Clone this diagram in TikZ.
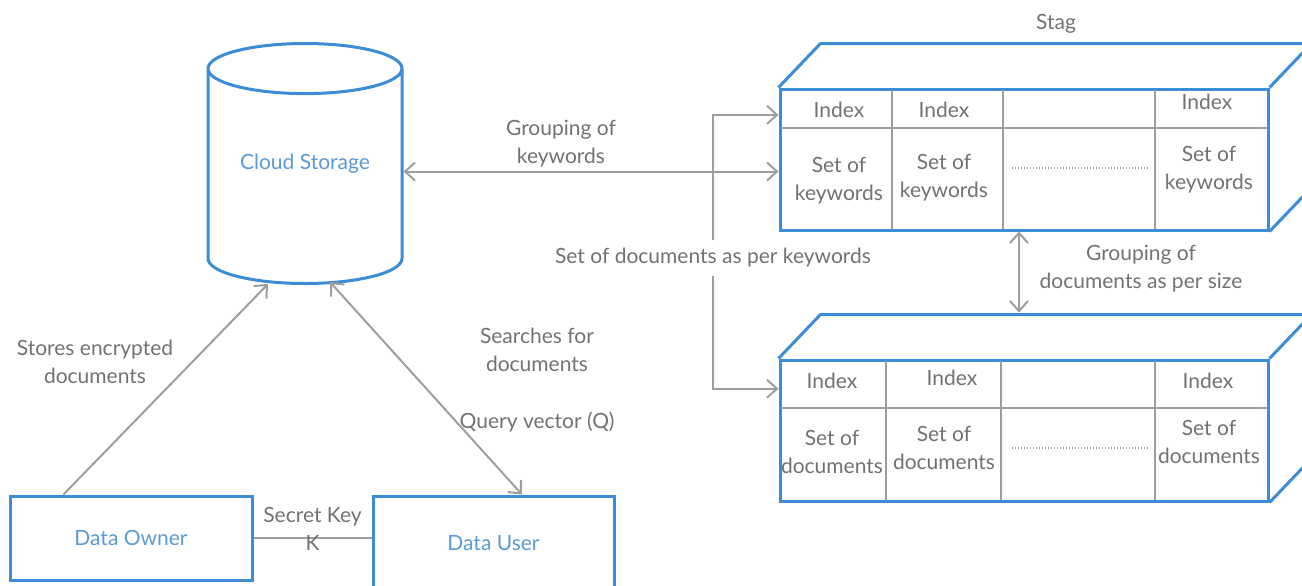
\documentclass[tikz,border=0pt]{standalone}
\usepackage{fontspec}
\setmainfont{Lato}
\usetikzlibrary{calc,arrows.meta,positioning,shapes.geometric}
\definecolor{bluex}{HTML}{3C8DD6}
\definecolor{bluet}{HTML}{5B9BD5}
\definecolor{grayl}{HTML}{9E9E9E}
\definecolor{grayt}{HTML}{727272}
\tikzset{
  box/.style={draw=bluex,line width=1.5pt,fill=white,text=bluet,font=\fontsize{10.5}{14}\selectfont},
  face/.style={bluex,line width=1.5pt,line join=round},
  ln/.style={grayl,line width=1pt},
  ar/.style={ln,-{Straight Barb[length=5pt,width=9pt]}},
  dar/.style={ln,{Straight Barb[length=5pt,width=9pt]}-{Straight Barb[length=5pt,width=9pt]}},
  lbl/.style={text=grayt,align=center,font=\fontsize{10.5}{14}\selectfont,inner sep=1pt},
  tl/.style={grayl,line width=1.2pt},
  dots/.style={grayl,line width=0.7pt,dash pattern=on 0.6pt off 0.9pt}
}
\begin{document}
\begin{tikzpicture}[x=0.5pt,y=-0.5pt]
\useasboundingbox (0,0) rectangle (1302,585);
\node[box,cylinder,shape border rotate=90,aspect=0.35,minimum width=97pt,minimum height=120pt,anchor=south] (cloud) at (305,285) {\phantom{Cloud Storage}};
\node[lbl,text=bluet] (cloudt) at ($(cloud.south)!0.5!(cloud.north)$) {Cloud Storage};
\node[box,minimum width=121pt,minimum height=42pt] (owner) at (131,538) {Data Owner};
\node[box,minimum width=120.5pt,minimum height=47pt] (user) at (493.5,543) {Data User};
% Stag cuboid
\node[box,minimum width=244pt,minimum height=70.5pt] (stag) at (1024,159.5) {};
\draw[face] (stag.north west) -- ++(42,-44) -- ++(530,0) (stag.north east) -- ++(42,-44) (stag.south east) -- ++(42,-44);
\draw[tl] (781,128) -- (1267,128);
\foreach \x in {892,1003,1155} \draw[tl] (\x,90) -- (\x,229);
\draw[dots] (1012,168) -- (1150,168);
\foreach \x/\y [count=\i] in {839/110,944/110,1207/102} \node[lbl] (ki\i) at (\x,\y) {Index};
\foreach \x/\y [count=\i] in {839/181,944/178,1209/170} \node[lbl] (ks\i) at (\x,\y) {Set of\\keywords};
% size cuboid
\node[box,minimum width=244pt,minimum height=70.5pt] (size) at (1024,430.5) {};
\draw[face] (size.north west) -- ++(42,-44) -- ++(530,0) (size.north east) -- ++(42,-44) (size.south east) -- ++(42,-44);
\draw[tl] (781,408) -- (1267,408);
\foreach \x in {886,1001,1155} \draw[tl] (\x,361) -- (\x,500);
\draw[dots] (1012,448) -- (1150,448);
\foreach \x/\y [count=\i] in {832/381,952/378,1208/381} \node[lbl] (di\i) at (\x,\y) {Index};
\foreach \x/\y [count=\i] in {832/452,944/448,1209/442} \node[lbl] (ds\i) at (\x,\y) {Set of\\documents};
% labels
\node[lbl] (stagl) at (1056,24) {Stag};
\node[lbl] (stores) at (95,362) {Stores encrypted\\documents};
\node[lbl] (search) at (537,350) {Searches for\\documents};
\node[lbl] (query) at (537,422) {Query vector (Q)};
\node[lbl] (grpkw) at (561,144) {Grouping of\\keywords};
\node[lbl] (grpdoc) at (1141,269) {Grouping of\\documents as per size};
\node[lbl,inner sep=4pt] (split) at (713,258) {Set of documents as per keywords};
% connectors
\draw[ar] ($(owner.north west)+(55,0)$) -- ($(cloud.south)+(-37,-1)$);
\draw[dar] ($(cloud.south)+(25,-3)$) -- ($(user.north)+(28.5,0)$);
\draw[ln] (owner.east) -- node[lbl,yshift=4.5pt] (key) {Secret Key\\K} (owner.east -| user.west);
\draw[dar] ([yshift=-4pt]cloudt.center -| cloud.east) -- ([yshift=-4pt]cloudt.center -| stag.west);
\draw[ar] (split) |- ($(stag.north west)!0.19!(stag.south west)$);
\draw[ar] (split) |- ($(size.north west)!0.21!(size.south west)$);
\draw[dar] ([xshift=-2.5pt]stag.south) -- ([xshift=-2.5pt,yshift=23pt]size.north);
\end{tikzpicture}
\end{document}
